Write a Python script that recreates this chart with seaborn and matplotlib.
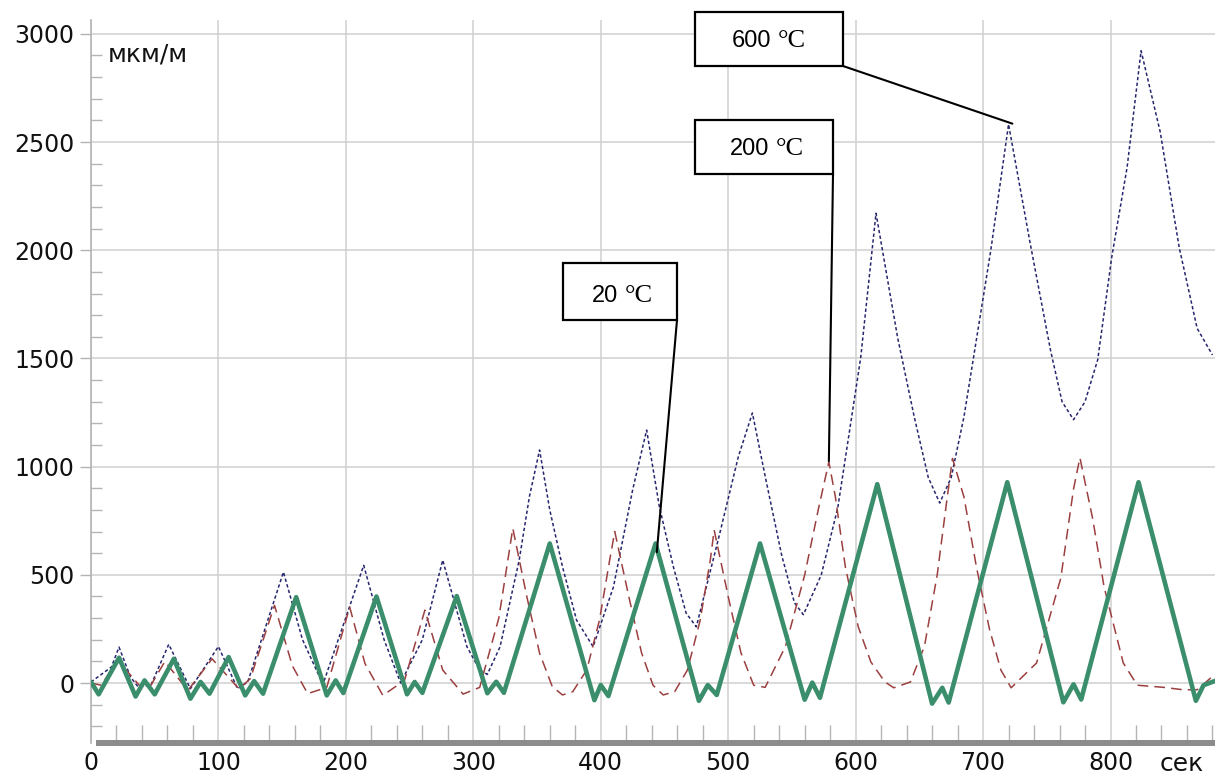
import numpy as np
import pandas as pd
import matplotlib
matplotlib.use("Agg")
import matplotlib.pyplot as plt
from matplotlib.ticker import MultipleLocator
from matplotlib.patches import Rectangle
import seaborn as sns

# ---- data ----
# 20 °C (green, solid)
t20 = [0, 6, 22, 35, 42, 50, 65, 78, 86, 93, 108, 121, 128, 135, 161, 185, 192, 198,
       224, 248, 254, 260, 287, 311, 318, 324, 360, 395, 400, 406, 443, 477, 484, 491,
       525, 560, 566, 572, 617, 660, 668, 673, 719, 763, 771, 777, 822, 867, 873, 882]
s20 = [5, -52, 117, -62, 12, -52, 112, -72, 5, -49, 120, -57, 9, -49, 397, -57, 12, -46,
       400, -52, 5, -45, 402, -47, 6, -45, 645, -79, -9, -60, 645, -82, -9, -55,
       645, -77, 2, -68, 919, -95, -22, -90, 928, -89, -6, -76, 928, -82, -10, 10]

# 200 °C (red, dashed)
t200 = [0, 8, 21, 39, 47, 58, 76, 95, 116, 125, 144, 158, 170, 185, 203, 215, 229, 246,
        262, 276, 292, 305, 320, 331, 342, 352, 362, 370, 378, 389, 399, 407, 411,
        422, 432, 441, 449, 458, 468, 478, 486, 489, 500, 510, 520, 529, 545, 560, 571,
        579, 584, 592, 602, 612, 623, 630, 643, 654, 664, 672, 676, 685, 695, 705, 714,
        722, 742, 761, 771, 776, 786, 795, 810, 821, 842, 857, 868, 880]
s200 = [0, -10, 105, -18, -10, 100, -34, 112, -26, 20, 359, 80, -49, -20, 351, 90, -57, 12,
        337, 60, -51, -20, 300, 715, 399, 138, -17, -55, -40, 60, 291, 568, 700,
        400, 140, -10, -55, -40, 60, 290, 570, 707, 400, 140, -10, -20, 170, 499, 810,
        1022, 864, 535, 261, 97, 5, -22, 5, 170, 499, 864, 1038, 860, 530, 250, 60,
        -22, 93, 485, 897, 1041, 760, 443, 93, -10, -20, -31, -31, 31]

# 600 °C (navy, dotted)
t600 = [0, 16, 22, 31, 37, 47, 61, 78, 100, 115, 123, 151, 166, 182, 214, 230, 243,
        260, 276, 284, 295, 305, 311, 321, 336, 344, 352, 360, 370, 381, 394, 410, 425,
        436, 446, 457, 467, 475, 493, 508, 519, 529, 542, 552, 559, 573, 586, 604, 616,
        633, 646, 657, 666, 675, 685, 706, 720, 737, 753, 762, 771, 780, 790, 801, 813,
        824, 839, 854, 868, 880]
s600 = [5, 74, 166, 28, -18, -10, 179, -26, 169, -26, 5, 513, 200, -6, 544, 200, 0,
        200, 568, 399, 168, 60, 40, 168, 568, 861, 1077, 800, 537, 291, 168, 445, 892,
        1169, 815, 537, 323, 260, 682, 1047, 1248, 956, 590, 371, 316, 499, 810, 1504, 2171,
        1595, 1230, 950, 832, 950, 1230, 1997, 2582, 2031, 1536, 1300, 1217, 1300, 1495, 1969, 2382,
        2922, 2547, 2010, 1639, 1516]

x_ticks = [0, 100, 200, 300, 400, 500, 600, 700, 800]
y_ticks = [0, 500, 1000, 1500, 2000, 2500, 3000]
labels = ["20 °C", "200 °C", "600 °C"]

# ---- styling ----
sns.set_theme(style="white")
plt.rcParams["font.family"] = ["DejaVu Sans"]

W, H = 1215, 780
fig = plt.figure(figsize=(W / 100, H / 100), dpi=100)
ax = fig.add_axes([91 / W, 37 / H, (W - 91) / W, 723 / H])

df20 = pd.DataFrame({"t": t20, "v": s20})
df200 = pd.DataFrame({"t": t200, "v": s200})
df600 = pd.DataFrame({"t": t600, "v": s600})

sns.lineplot(data=df600, x="t", y="v", ax=ax, estimator=None, sort=False,
             color="#26266e", lw=1.1, linestyle=(0, (2.2, 1.6)), zorder=3)
sns.lineplot(data=df200, x="t", y="v", ax=ax, estimator=None, sort=False,
             color="#9c3f3f", lw=1.1, linestyle=(0, (7, 4)), zorder=3)
sns.lineplot(data=df20, x="t", y="v", ax=ax, estimator=None, sort=False,
             color="#3b8e6c", lw=3.3, zorder=4)

ax.set_xlim(0, 882)
ax.set_ylim(-277, 3064)
ax.set_xlabel("")
ax.set_ylabel("")

ax.set_xticks(x_ticks)
ax.set_xticklabels([str(v) for v in x_ticks])
ax.set_yticks(y_ticks)
ax.set_yticklabels([str(v) for v in y_ticks])
ax.xaxis.set_minor_locator(MultipleLocator(20))
ax.yaxis.set_minor_locator(MultipleLocator(100))

ax.grid(True, which="major", color="#cfcfcf", lw=1.1)
ax.set_axisbelow(True)

gray = "#b4b4b4"
ax.tick_params(axis="y", which="major", direction="out", length=8, width=1,
               color=gray, labelsize=17, pad=4, labelcolor="#111111", left=True)
ax.tick_params(axis="y", which="minor", direction="in", length=8, width=1,
               color=gray, left=True)
ax.tick_params(axis="x", which="major", length=0, labelsize=17, pad=6,
               labelcolor="#111111", bottom=True)
ax.tick_params(axis="x", which="minor", direction="in", length=13, width=1,
               color=gray, bottom=True)

for s in ["top", "right"]:
    ax.spines[s].set_visible(False)
ax.spines["left"].set_color(gray)
ax.spines["left"].set_linewidth(1.2)
ax.spines["bottom"].set_color("#8c8c8c")
ax.spines["bottom"].set_linewidth(4.3)
ax.spines["bottom"].set_bounds(6, 882)

# unit labels
fig.text(108 / W, 1 - 54 / H, "мкм/м", fontsize=18, ha="left", va="center", color="#111111")
fig.text(1182 / W, 1 - 764 / H, "сек", fontsize=18, ha="center", va="center", color="#111111")

# ---- annotation boxes ----
boxes = [
    # label, box (x0, y0, x1, y1) in pixels from top-left, split x, baseline y, line start, target
    (labels[2], (695, 12, 843, 66), 771, 47, (843, 66), (723, 2585)),
    (labels[1], (695, 120, 833, 174), 769, 155, (833, 174), (579, 1025)),
    (labels[0], (563, 263, 677, 320), 618, 302, (677, 320), (444, 605)),
]
for lab, (x0, y0, x1, y1), sx, by, (lx, ly), target in boxes:
    fig.add_artist(Rectangle((x0 / W, 1 - y1 / H), (x1 - x0) / W, (y1 - y0) / H,
                             transform=fig.transFigure, facecolor="white",
                             edgecolor="black", lw=1.6, zorder=10))
    num, unit = lab.split(" ")
    fig.text(sx / W, 1 - by / H, num, fontsize=17, family=["Liberation Sans"],
             ha="right", va="baseline", zorder=11, color="black")
    fig.text((sx + 7) / W, 1 - by / H, unit, fontsize=19, family=["Liberation Serif"],
             ha="left", va="baseline", zorder=11, color="black")
    ax.annotate("", xy=target, xycoords="data",
                xytext=(lx / W, 1 - ly / H), textcoords="figure fraction",
                arrowprops=dict(arrowstyle="-", lw=1.5, color="black",
                                shrinkA=0, shrinkB=0),
                annotation_clip=False, zorder=9)

fig.savefig("out.png", dpi=100)
